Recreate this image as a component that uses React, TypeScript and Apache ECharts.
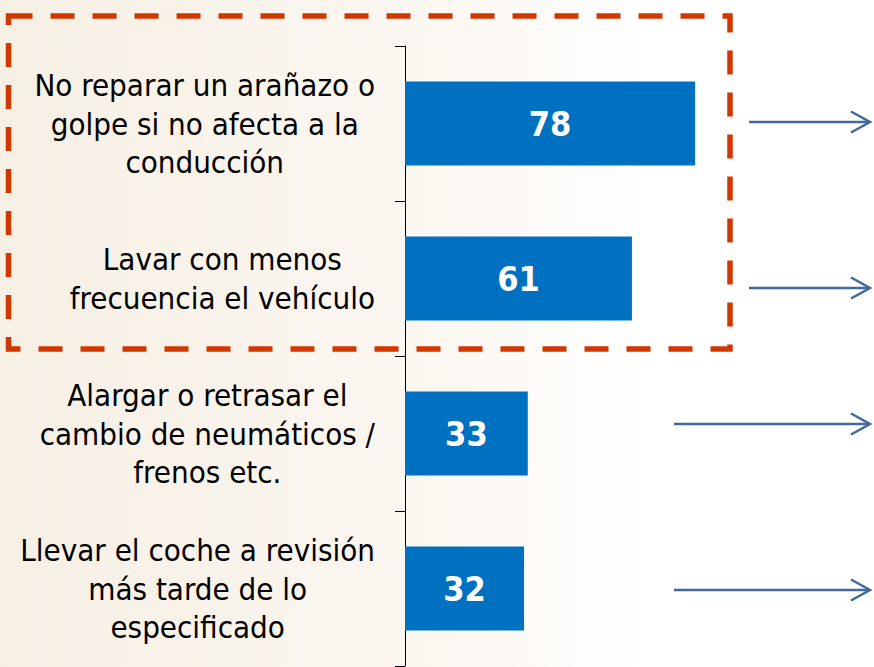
import React, { useEffect, useRef } from 'react';
import * as echarts from 'echarts';

const categories = [
  'No reparar un arañazo o\ngolpe si no afecta a la\nconducción',
  'Lavar con menos\nfrecuencia el vehículo',
  'Alargar o retrasar el\ncambio de neumáticos /\nfrenos etc.',
  'Llevar el coche a revisión\nmás tarde de lo\nespecificado',
];
const values = [78, 61, 33, 32];
const xMin = 0;
const xMax = 100;

const FONT = '"DejaVu Sans Condensed", "DejaVu Sans", sans-serif';
const ARROW = '#41699B';
const BOX = '#D13800';

function arrow(x1: number, x2: number, y: number) {
  return {
    type: 'group',
    children: [
      { type: 'line', shape: { x1, y1: y, x2: x2 - 1, y2: y }, style: { stroke: ARROW, lineWidth: 2.5 } },
      {
        type: 'polyline',
        shape: { points: [[x2 - 19, y - 10.5], [x2, y], [x2 - 19, y + 10.5]] },
        style: { stroke: ARROW, lineWidth: 2.5, fill: 'none' },
      },
    ],
  };
}

export default function App() {
  const ref = useRef<HTMLDivElement>(null);
  useEffect(() => {
    if (!ref.current) return;
    const chart = echarts.init(ref.current, null, { renderer: 'svg' });
    chart.setOption({
      animation: false,
      backgroundColor: new echarts.graphic.LinearGradient(0, 0, 1, 0, [
        { offset: 0, color: '#f6efe4' },
        { offset: 0.5, color: '#fbf7f1' },
        { offset: 0.75, color: '#ffffff' },
        { offset: 1, color: '#ffffff' },
      ]),
      grid: { left: 405, top: 46, width: 372, height: 620, containLabel: false },
      xAxis: {
        type: 'value',
        min: xMin,
        max: xMax,
        show: false,
      },
      yAxis: {
        type: 'category',
        data: categories,
        inverse: true,
        axisLine: { show: true, lineStyle: { color: '#000', width: 1 } },
        axisTick: { show: true, length: 10, lineStyle: { color: '#000', width: 1 } },
        axisLabel: {
          margin: 30,
          formatter: (v: string) => v.split('\n').map((l) => `{c|${l}}`).join('\n'),
          rich: {
            c: {
              align: 'center',
              fontFamily: FONT,
              fontSize: 31,
              lineHeight: 38.5,
              color: '#000',
            },
          },
        },
        splitLine: { show: false },
      },
      series: [
        {
          type: 'bar',
          data: values,
          barWidth: 84,
          itemStyle: { color: '#0070C0' },
          label: {
            show: true,
            position: 'inside',
            color: '#fff',
            fontFamily: FONT,
            fontWeight: 'bold',
            fontSize: 34,
          },
        },
      ],
      graphic: [
        {
          type: 'rect',
          shape: { x: 8.5, y: 16, width: 721.5, height: 333 },
          style: { fill: 'none', stroke: BOX, lineWidth: 5.5, lineDash: [24, 18] },
          z: 100,
        },
        arrow(749, 870, 122),
        arrow(749, 870, 288),
        arrow(674, 870, 424),
        arrow(674, 870, 590),
      ],
    });
    return () => chart.dispose();
  }, []);
  return (
    <div
      ref={ref}
      style={{ position: 'fixed', left: 0, top: 0, width: 874, height: 667 }}
    />
  );
}
